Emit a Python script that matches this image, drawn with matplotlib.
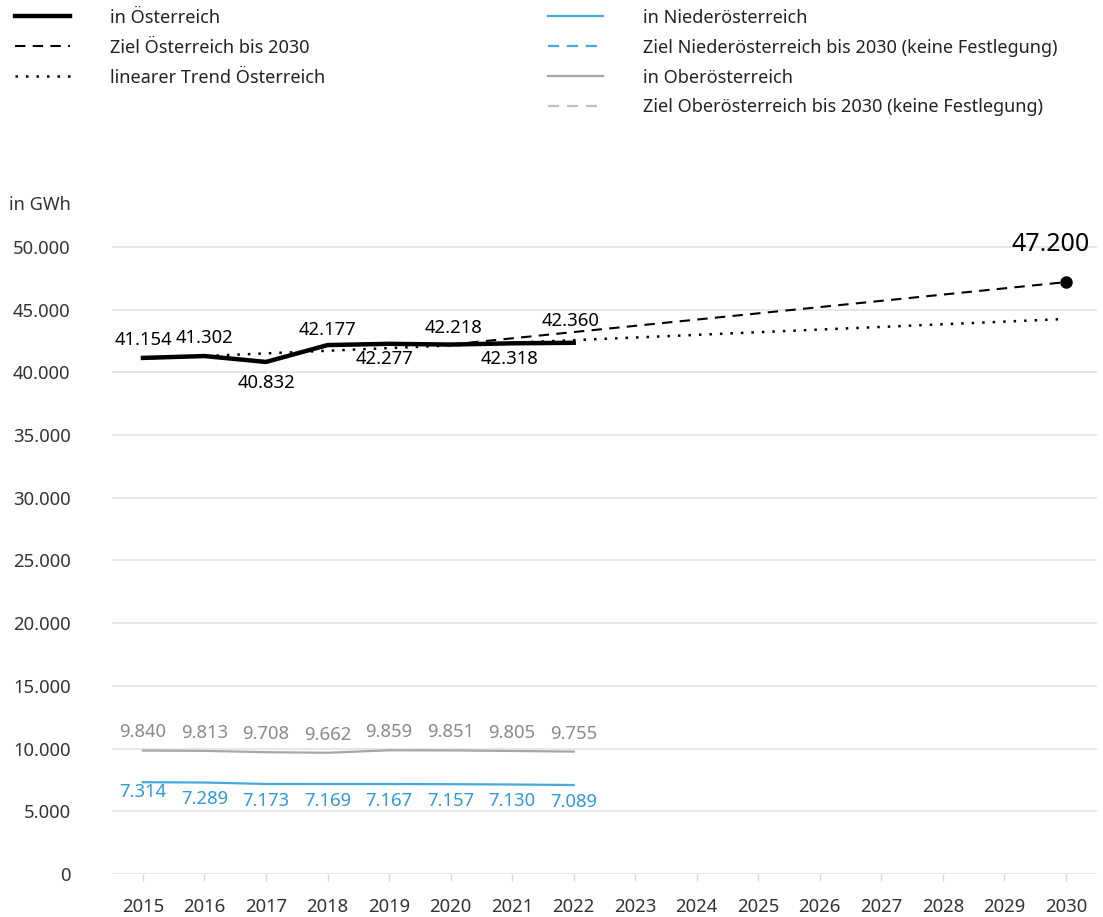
import matplotlib.pyplot as plt
from matplotlib.lines import Line2D

plt.rcParams['font.family'] = ['Noto Sans', 'DejaVu Sans']

# Stromverbrauch in GWh
years = [2015, 2016, 2017, 2018, 2019, 2020, 2021, 2022]
all_years = list(range(2015, 2031))
oesterreich = [41154, 41302, 40832, 42177, 42277, 42218, 42318, 42360]
niederoesterreich = [7314, 7289, 7173, 7169, 7167, 7157, 7130, 7089]
oberoesterreich = [9840, 9813, 9708, 9662, 9859, 9851, 9805, 9755]

# Ziel 2030 (ab 2020) und linearer Trend 2015-2030
ziel_years = [2020, 2030]
ziel_values = [42218, 47200]
trend_years = [2015, 2030]
trend_values = [41090, 44260]

BLUE = '#45a9e0'
BLUE_TXT = '#2f9ad8'
GREY = '#a6a6a6'
GREY_TXT = '#8a8a8a'


def fmt(v):
    return f'{v:,}'.replace(',', '.')


fig = plt.figure(figsize=(11.03, 9.17), dpi=100)
ax = fig.add_axes([0.1017, 0.047, 0.8926, 0.711])

ax.plot(trend_years, trend_values, color='black', lw=1.8, ls=(0, (1, 3.2)), zorder=2)
ax.plot(ziel_years, ziel_values, color='black', lw=1.5, ls=(0, (5, 3.5)), zorder=2)
ax.plot(ziel_years[-1], ziel_values[-1], 'o', color='black', ms=8, zorder=4)
ax.plot(years, oesterreich, color='black', lw=3.2, zorder=3)
ax.plot(years, niederoesterreich, color=BLUE, lw=1.6, zorder=3)
ax.plot(years, oberoesterreich, color=GREY, lw=1.6, zorder=3)

# Beschriftungen Österreich (Versatz in Punkten)
oe_offsets = [(0, 13), (0, 13), (0, -15), (0, 11), (-3, -11), (2, 12), (-2, -11), (-2, 16)]
for x, v, off in zip(years, oesterreich, oe_offsets):
    ax.annotate(fmt(v), (x, v), xytext=off, textcoords='offset points',
                ha='center', va='center', fontsize=13.3, color='black')
ax.annotate(fmt(ziel_values[-1]), (ziel_years[-1], ziel_values[-1]), xytext=(-11, 27),
            textcoords='offset points', ha='center', va='center', fontsize=18, color='black')

for x, v in zip(years, oberoesterreich):
    ax.annotate(fmt(v), (x, v), xytext=(0, 13), textcoords='offset points',
                ha='center', va='center', fontsize=13.3, color=GREY_TXT)
for i, (x, v) in enumerate(zip(years, niederoesterreich)):
    dy = -7 if i == 0 else -12
    ax.annotate(fmt(v), (x, v), xytext=(0, dy), textcoords='offset points',
                ha='center', va='center', fontsize=13.3, color=BLUE_TXT)

ax.set_xlim(2014.5, 2030.5)
ax.set_ylim(0, 52000)
ax.set_xticks(all_years)
ax.set_yticks(range(0, 50001, 5000))
ax.set_yticklabels([fmt(v) for v in range(0, 50001, 5000)])
ax.grid(axis='y', color='#e3e3e3', lw=1.2)
ax.set_axisbelow(True)
for s in ax.spines.values():
    s.set_visible(False)
ax.tick_params(axis='y', length=0, pad=30, labelsize=13.3, labelcolor='#333333')
ax.tick_params(axis='x', length=5, width=1, color='#d9d9d9', pad=12,
               labelsize=13.3, labelcolor='#333333')

fig.text(0.008, 0.776, 'in GWh', fontsize=13, color='#333333', va='center', ha='left')

# Legende in zwei Spalten
h_left = [
    Line2D([], [], color='black', lw=3.2),
    Line2D([], [], color='black', lw=1.5, ls=(0, (5, 3.5))),
    Line2D([], [], color='black', lw=1.8, ls=(0, (1, 3.2))),
]
l_left = ['in Österreich', 'Ziel Österreich bis 2030', 'linearer Trend Österreich']
h_right = [
    Line2D([], [], color=BLUE, lw=1.6),
    Line2D([], [], color=BLUE, lw=1.6, ls=(0, (5, 3.5))),
    Line2D([], [], color=GREY, lw=1.6),
    Line2D([], [], color='#c0c0c0', lw=1.6, ls=(0, (5, 3.5))),
]
l_right = ['in Niederösterreich', 'Ziel Niederösterreich bis 2030 (keine Festlegung)',
           'in Oberösterreich', 'Ziel Oberösterreich bis 2030 (keine Festlegung)']
leg_kw = dict(frameon=False, fontsize=13, handlelength=3.05, handletextpad=2.2,
              labelspacing=0.66, borderpad=0, borderaxespad=0, labelcolor='#222222')
fig.legend(h_left, l_left, loc='upper left', bbox_to_anchor=(0.0136, 0.9905), **leg_kw)
fig.legend(h_right, l_right, loc='upper left', bbox_to_anchor=(0.4968, 0.9905), **leg_kw)

fig.savefig('out.png', dpi=100)
